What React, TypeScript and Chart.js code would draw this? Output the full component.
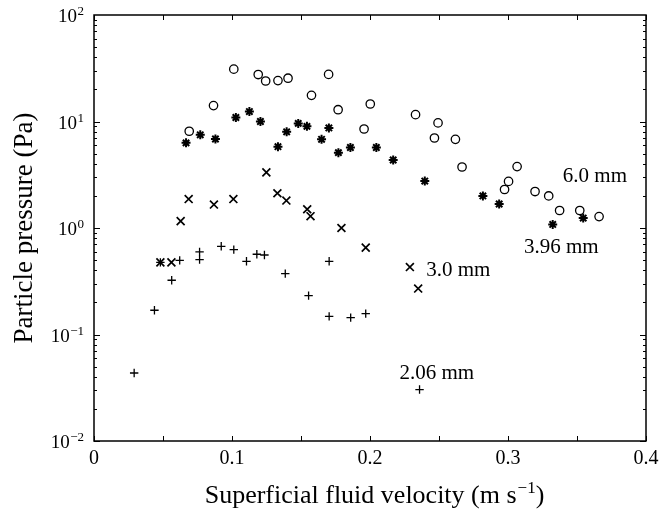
import React, { useEffect, useRef } from "react";
import { Chart, registerables } from "chart.js";

Chart.register(...registerables);

// 6.0 mm particles (open circles)
const v60 = [0.069, 0.0866, 0.1013, 0.119, 0.1244, 0.1333, 0.1406, 0.1576, 0.170, 0.1769, 0.1957, 0.2002, 0.233, 0.2493, 0.2467, 0.2619, 0.2667, 0.3004, 0.2975, 0.3066, 0.3196, 0.3295, 0.3374, 0.352, 0.366];
const p60 = [8.1, 14.1, 31, 27.6, 24, 24.2, 25.5, 17.6, 27.7, 12.9, 8.5, 14.6, 11.6, 9.7, 7.0, 6.8, 3.74, 2.74, 2.3, 3.77, 2.2, 2.0, 1.46, 1.46, 1.28];

// 3.96 mm particles (asterisks)
const v396 = [0.0667, 0.077, 0.088, 0.1028, 0.1126, 0.1206, 0.1333, 0.1396, 0.148, 0.1543, 0.1649, 0.1702, 0.1771, 0.1858, 0.2046, 0.2168, 0.2397, 0.2818, 0.2936, 0.3324, 0.3545];
const p396 = [6.3, 7.5, 6.85, 10.9, 12.4, 10.0, 5.8, 8.0, 9.6, 9.0, 6.8, 8.7, 5.1, 5.7, 5.7, 4.35, 2.76, 2.0, 1.68, 1.08, 1.24];

// 3.0 mm particles (crosses x)
const v30 = [0.0481, 0.0561, 0.0628, 0.0686, 0.0869, 0.101, 0.1249, 0.1329, 0.1394, 0.1545, 0.1569, 0.1793, 0.1969, 0.2289, 0.2349];
const p30 = [0.476, 0.476, 1.16, 1.87, 1.66, 1.87, 3.33, 2.12, 1.81, 1.5, 1.29, 1.0, 0.655, 0.43, 0.27];

// 2.06 mm particles (plus +)
const v206 = [0.0291, 0.0438, 0.0481, 0.0563, 0.0621, 0.0765, 0.0765, 0.0922, 0.1013, 0.1105, 0.118, 0.1235, 0.1386, 0.1555, 0.1704, 0.1704, 0.186, 0.1969, 0.2359];
const p206 = [0.0435, 0.169, 0.476, 0.323, 0.497, 0.596, 0.505, 0.673, 0.627, 0.487, 0.567, 0.558, 0.373, 0.232, 0.487, 0.148, 0.144, 0.157, 0.0304];

// curve labels
const labelTexts = ["6.0 mm", "3.96 mm", "3.0 mm", "2.06 mm"];
const labelX = [0.363, 0.3386, 0.264, 0.2484];
const labelY = [3.05, 0.66, 0.40, 0.0433];

// ticks
const xTickLabels = ["0", "0.1", "0.2", "0.3", "0.4"];
const xTickValues = [0, 0.1, 0.2, 0.3, 0.4];
const xSmallTicks = [0, 0.05, 0.1, 0.15, 0.2, 0.25, 0.3, 0.35, 0.4];
const yTickValues = [0.01, 0.1, 1, 10, 100];
const yTickBase = "10";
const yTickExponents = ["\u22122", "\u22121", "0", "1", "2"];
const yDecades = [0.01, 0.1, 1, 10];
const yMantissas = [1, 2, 3, 4, 5, 6, 7, 8, 9];

// axis titles
const xTitleMain = "Superficial fluid velocity (m s";
const xTitleSup = "\u22121";
const xTitleEnd = ")";
const yTitle = "Particle pressure (Pa)";

const FONT = "'Liberation Serif', 'Times New Roman', serif";

const pts = (xs: number[], ys: number[]) => xs.map((x, i) => ({ x, y: ys[i] }));

const framePlugin = {
  id: "frameTicks",
  afterDraw(chart: any) {
    const { ctx, chartArea: a, scales } = chart;
    const xs = scales.x;
    const ys = scales.y;
    ctx.save();
    ctx.strokeStyle = "#000";
    ctx.lineWidth = 1.5;
    ctx.strokeRect(a.left, a.top, a.right - a.left, a.bottom - a.top);
    ctx.lineWidth = 1;
    ctx.beginPath();
    xSmallTicks.forEach((v) => {
      const px = Math.round(xs.getPixelForValue(v)) + 0.5;
      ctx.moveTo(px, a.bottom);
      ctx.lineTo(px, a.bottom - 5);
      ctx.moveTo(px, a.top);
      ctx.lineTo(px, a.top + 5);
    });
    yDecades.forEach((d) => {
      yMantissas.forEach((m) => {
        const py = Math.round(ys.getPixelForValue(d * m)) + 0.5;
        const len = m === 1 ? 6 : 3;
        ctx.moveTo(a.left, py);
        ctx.lineTo(a.left + len, py);
        ctx.moveTo(a.right, py);
        ctx.lineTo(a.right - len, py);
      });
    });
    ctx.stroke();
    ctx.fillStyle = "#000";

    // x tick labels
    ctx.textBaseline = "alphabetic";
    ctx.textAlign = "center";
    ctx.font = `20px ${FONT}`;
    xTickValues.forEach((v, i) => {
      ctx.fillText(xTickLabels[i], xs.getPixelForValue(v), a.bottom + 23);
    });

    // y tick labels with superscript exponents
    ctx.textAlign = "right";
    yTickValues.forEach((v, i) => {
      const py = ys.getPixelForValue(v);
      const right = a.left - 10;
      ctx.font = `13px ${FONT}`;
      const ew = ctx.measureText(yTickExponents[i]).width;
      ctx.fillText(yTickExponents[i], right, py);
      ctx.font = `19px ${FONT}`;
      ctx.fillText(yTickBase, right - ew - 0.5, py + 7);
    });

    // x title with superscript
    ctx.textAlign = "left";
    ctx.font = `26px ${FONT}`;
    const w1 = ctx.measureText(xTitleMain).width;
    const w3 = ctx.measureText(xTitleEnd).width;
    ctx.font = `17px ${FONT}`;
    const w2 = ctx.measureText(xTitleSup).width;
    const total = w1 + w2 + w3;
    const cx = (a.left + a.right) / 2 + 4;
    const sx = cx - total / 2;
    const base = 503;
    ctx.font = `26px ${FONT}`;
    ctx.fillText(xTitleMain, sx, base);
    ctx.font = `17px ${FONT}`;
    ctx.fillText(xTitleSup, sx + w1 + 1, base - 10);
    ctx.font = `26px ${FONT}`;
    ctx.fillText(xTitleEnd, sx + w1 + w2 + 1, base);

    // y title
    ctx.save();
    ctx.translate(25, (a.top + a.bottom) / 2);
    ctx.rotate(-Math.PI / 2);
    ctx.textAlign = "center";
    ctx.textBaseline = "middle";
    ctx.font = `27px ${FONT}`;
    ctx.fillText(yTitle, 0, 0);
    ctx.restore();

    // curve labels
    ctx.font = `21px ${FONT}`;
    ctx.textAlign = "center";
    ctx.textBaseline = "middle";
    labelTexts.forEach((t, i) => {
      ctx.fillText(t, xs.getPixelForValue(labelX[i]), ys.getPixelForValue(labelY[i]));
    });
    ctx.restore();
  },
};

export default function App() {
  const ref = useRef<HTMLCanvasElement | null>(null);
  useEffect(() => {
    if (!ref.current) return;
    const common = { showLine: false, borderColor: "#000", backgroundColor: "rgba(0,0,0,0)" };
    const chart = new Chart(ref.current, {
      type: "scatter",
      data: {
        datasets: [
          { ...common, label: "6.0 mm", data: pts(v60, p60), pointStyle: "circle", pointRadius: 4.2, borderWidth: 1.3 },
          { ...common, label: "3.96 mm", data: pts(v396, p396), pointStyle: "star", pointRadius: 4.5, borderWidth: 2 },
          { ...common, label: "3.0 mm", data: pts(v30, p30), pointStyle: "crossRot", pointRadius: 5.6, borderWidth: 1.7 },
          { ...common, label: "2.06 mm", data: pts(v206, p206), pointStyle: "cross", pointRadius: 4.2, borderWidth: 1.3 },
        ] as any,
      },
      options: {
        animation: false,
        responsive: true,
        maintainAspectRatio: false,
        layout: { padding: { top: 15, right: 15, left: 0, bottom: 0 } },
        plugins: { legend: { display: false }, tooltip: { enabled: false } },
        scales: {
          x: {
            type: "linear",
            min: 0,
            max: 0.4,
            afterFit: (s: any) => { s.height = 73; },
            afterBuildTicks: (s: any) => { s.ticks = xTickValues.map((v) => ({ value: v })); },
            grid: { display: false, drawTicks: false },
            border: { display: false },
            ticks: { display: false },
          },
          y: {
            type: "logarithmic",
            min: 0.01,
            max: 100,
            afterFit: (s: any) => { s.width = 94; },
            afterBuildTicks: (s: any) => { s.ticks = yTickValues.map((v) => ({ value: v })); },
            grid: { display: false, drawTicks: false },
            border: { display: false },
            ticks: { display: false },
          },
        },
      },
      plugins: [framePlugin],
    });
    return () => chart.destroy();
  }, []);
  return (
    <div style={{ position: "fixed", left: 0, top: 0, width: 661, height: 514, background: "#fff" }}>
      <canvas ref={ref} />
    </div>
  );
}
